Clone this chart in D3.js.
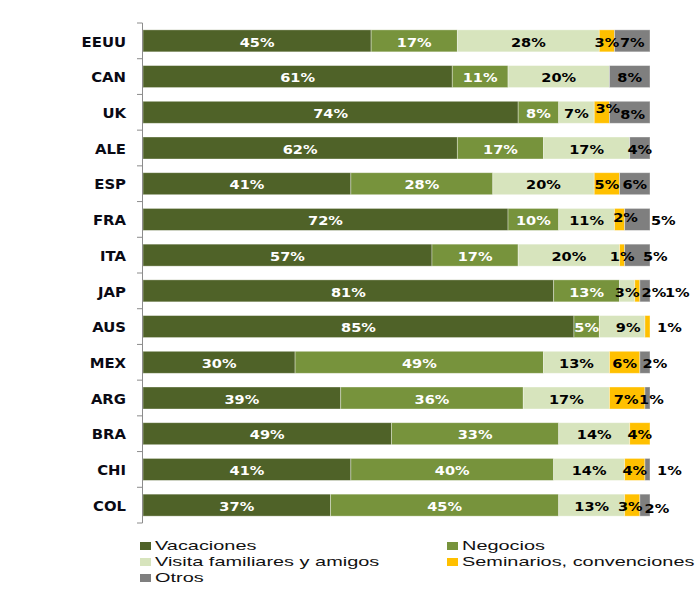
<!DOCTYPE html>
<html>
<head>
<meta charset="utf-8">
<script src="https://cdn.jsdelivr.net/npm/d3@7/dist/d3.min.js"></script>
<style>
  html, body { margin: 0; padding: 0; background: #fff; }
  svg { display: block; }
</style>
</head>
<body>
<svg id="chart" width="697" height="590"></svg>
<script>
// ---- Data ----
const categories = ["EEUU","CAN","UK","ALE","ESP","FRA","ITA","JAP","AUS","MEX","ARG","BRA","CHI","COL"];
const seriesNames = ["Vacaciones","Negocios","Visita familiares y amigos","Seminarios, convenciones","Otros"];
const vacaciones = [45,61,74,62,41,72,57,81,85,30,39,49,41,37];
const negocios   = [17,11, 8,17,28,10,17,13, 5,49,36,33,40,45];
const visita     = [28,20, 7,17,20,11,20, 3, 9,13,17,14,14,13];
const seminarios = [ 3, 0, 3, 0, 5, 2, 1, 1, 1, 6, 7, 4, 4, 3];
const otros      = [ 7, 8, 8, 4, 6, 5, 5, 2, 0, 2, 1, 0, 1, 2];

// ---- Styles / layout ----
const colors = ["#4F6228","#77933C","#D7E4BD","#FFC000","#7F7F7F"];
const labelColors = ["#ffffff","#ffffff","#000000","#000000","#000000"];
// manual label nudges (layout only): "country|seriesIndex" -> [dx, dy]
const nudges = {
  "UK|3": [6,-5], "UK|4": [3,1], "FRA|3": [6,-3], "FRA|4": [26,0], "ITA|4": [18,0],
  "JAP|3": [40,0], "JAP|4": [9,0], "AUS|2": [6,0], "AUS|3": [22,0],
  "MEX|4": [10,0], "ARG|3": [-1,0], "ARG|4": [4,0], "CHI|4": [22,0], "COL|3": [-2,0], "COL|4": [12,2]
};

const svg = d3.select("#chart");
const allSeries = [vacaciones, negocios, visita, seminarios, otros];
const table = categories.map((c, i) => {
  const row = { cat: c };
  seriesNames.forEach((s, k) => row[s] = allSeries[k][i]);
  return row;
});
const stacked = d3.stack().keys(seriesNames)(table);

const x = d3.scaleLinear().domain([0, 100]).range([143, 650]);
const y = d3.scaleBand().domain(categories).range([23, 523]).paddingInner(0.384).paddingOuter(0.192);

// bars
const layers = svg.append("g").selectAll("g").data(stacked).join("g")
  .attr("fill", (d, k) => colors[k]);
layers.selectAll("rect").data(d => d.map(v => ({ v, cat: v.data.cat }))).join("rect")
  .attr("x", d => x(d.v[0]))
  .attr("y", d => y(d.cat))
  .attr("width", d => x(d.v[1]) - x(d.v[0]))
  .attr("height", y.bandwidth())
  .attr("stroke", "rgba(255,255,255,0.45)")
  .attr("stroke-width", 0.8);

// value labels
stacked.forEach((layer, k) => {
  svg.append("g").selectAll("text")
    .data(layer.filter(v => v[1] - v[0] > 0))
    .join("text")
    .attr("transform", v => {
      const n = nudges[v.data.cat + "|" + k] || [0, 0];
      const cx = (x(v[0]) + x(v[1])) / 2 + n[0];
      const cy = y(v.data.cat) + y.bandwidth() / 2 + 1 + n[1];
      return `translate(${cx},${cy}) scale(1.12,1)`;
    })
    .attr("text-anchor", "middle")
    .attr("dominant-baseline", "central")
    .attr("font-family", "DejaVu Sans, Verdana, sans-serif")
    .attr("font-weight", "bold")
    .attr("font-size", 13)
    .attr("fill", labelColors[k])
    .text(v => (v[1] - v[0]) + "%");
});

// axis (manual, ticks at band boundaries)
const axis = svg.append("g").attr("stroke", "#8c8c8c").attr("stroke-width", 1);
const bounds = d3.range(categories.length + 1).map(i => y.range()[0] + i * y.step());
axis.append("line").attr("x1", x(0) - 0.5).attr("x2", x(0) - 0.5)
  .attr("y1", bounds[0]).attr("y2", bounds[bounds.length - 1]);
axis.selectAll("line.t").data(bounds).join("line").attr("class", "t")
  .attr("x1", x(0) - 6).attr("x2", x(0) - 0.5)
  .attr("y1", d => d).attr("y2", d => d);

// category labels
svg.append("g").selectAll("text").data(categories).join("text")
  .attr("transform", c => `translate(126,${y(c) + y.bandwidth() / 2 + 1}) scale(1.1,1)`)
  .attr("text-anchor", "end")
  .attr("dominant-baseline", "central")
  .attr("font-family", "DejaVu Sans, Verdana, sans-serif")
  .attr("font-weight", "bold")
  .attr("font-size", 13.5)
  .attr("fill", "#0a0a14")
  .text(c => c);

// legend
const legendPos = [[140, 546], [447, 546], [140, 562], [447, 562], [140, 578]];
const lg = svg.append("g").selectAll("g").data(seriesNames).join("g")
  .attr("transform", (d, k) => `translate(${legendPos[k][0]},${legendPos[k][1]})`);
lg.append("rect").attr("x", 0).attr("y", -4).attr("width", 11).attr("height", 8)
  .attr("fill", (d, k) => colors[k]);
lg.append("text")
  .attr("transform", "translate(15,4.3) scale(1.66,1)")
  .attr("font-family", "Liberation Sans, Arial, sans-serif")
  .attr("font-size", 12)
  .attr("fill", "#111")
  .text(d => d);
</script>
</body>
</html>
